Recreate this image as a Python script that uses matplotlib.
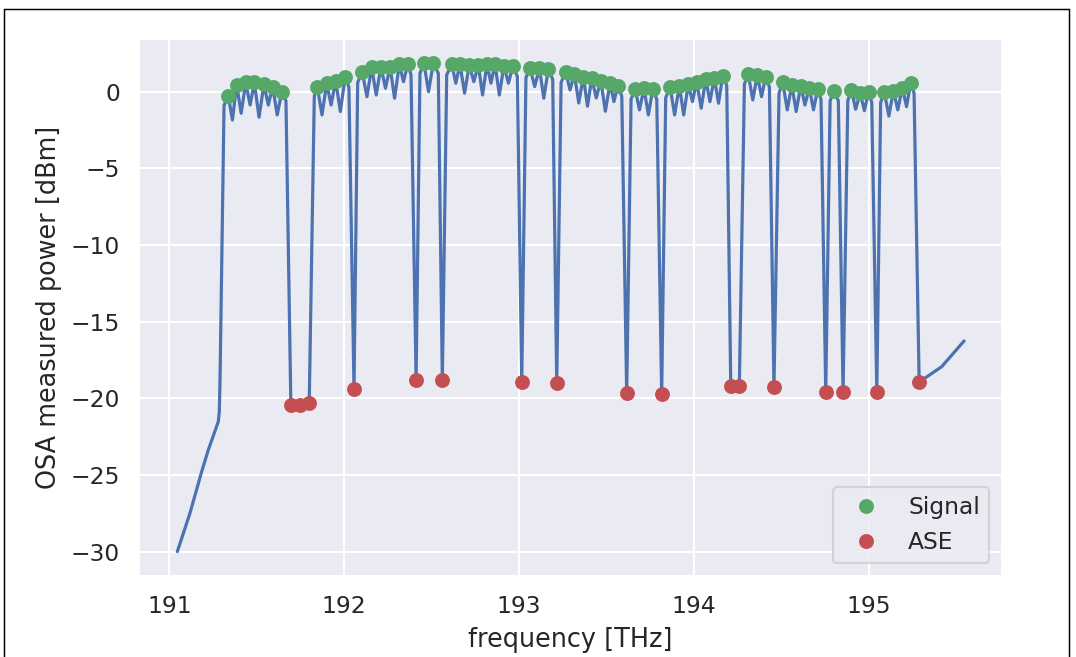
import numpy as np
import matplotlib
matplotlib.use("Agg")
import matplotlib.pyplot as plt
from matplotlib.patches import Rectangle

# measured channel peaks (signal) [THz], [dBm]
signal_freq = [
    191.337, 191.385, 191.437, 191.486, 191.541, 191.591, 191.643,
    191.846, 191.900, 191.951, 192.005,
    192.103, 192.157, 192.210, 192.262, 192.315, 192.363,
    192.456, 192.509,
    192.615, 192.662, 192.715, 192.767, 192.816, 192.862, 192.913, 192.965,
    193.062, 193.116, 193.167,
    193.266, 193.316, 193.367, 193.415, 193.467, 193.520, 193.564,
    193.663, 193.714, 193.764,
    193.863, 193.916, 193.967, 194.015, 194.067, 194.116, 194.164,
    194.310, 194.362, 194.410,
    194.507, 194.559, 194.610, 194.659, 194.707,
    194.800,
    194.900, 194.950, 194.998,
    195.088, 195.140, 195.191, 195.239,
]
signal_power = [
    -0.26, 0.44, 0.61, 0.60, 0.48, 0.33, -0.04,
    0.33, 0.55, 0.72, 0.94,
    1.27, 1.59, 1.63, 1.63, 1.79, 1.79,
    1.85, 1.85,
    1.79, 1.79, 1.74, 1.72, 1.79, 1.81, 1.70, 1.70,
    1.57, 1.53, 1.46,
    1.30, 1.15, 0.98, 0.87, 0.72, 0.55, 0.39,
    0.20, 0.22, 0.18,
    0.31, 0.39, 0.48, 0.65, 0.81, 0.91, 1.04,
    1.14, 1.09, 0.98,
    0.61, 0.44, 0.39, 0.26, 0.16,
    0.07,
    0.11, -0.10, 0.00,
    -0.04, 0.07, 0.26, 0.59,
]

# empty slots (ASE floor)
ase_freq = [191.695, 191.747, 191.800, 192.056, 192.411, 192.561, 193.015,
            193.215, 193.615, 193.815, 194.210, 194.259, 194.457, 194.753,
            194.852, 195.045, 195.287]
ase_power = [-20.44, -20.44, -20.29, -19.37, -18.81, -18.81, -18.92,
             -19.02, -19.67, -19.74, -19.20, -19.20, -19.24, -19.61,
             -19.61, -19.61, -18.94]

# ripple minima between neighbouring channels
dip_freq = [
    191.361, 191.411, 191.462, 191.513, 191.566, 191.617,
    191.873, 191.925, 191.978,
    192.130, 192.183, 192.236, 192.288, 192.339,
    192.482,
    192.638, 192.688, 192.741, 192.791, 192.839, 192.887, 192.939,
    193.089, 193.141,
    193.291, 193.341, 193.391, 193.441, 193.493, 193.542,
    193.688, 193.739,
    193.889, 193.941, 193.991, 194.041, 194.091, 194.140,
    194.336, 194.386,
    194.533, 194.584, 194.634, 194.683,
    194.924, 194.974,
    195.114, 195.165, 195.215,
]
dip_power = [
    -1.85, -1.41, -0.87, -1.67, -0.87, -1.52,
    -1.52, -0.87, -1.30,
    -0.33, -0.22, 0.22, -0.43, 0.65,
    0.00,
    0.55, -0.10, 0.65, -0.22, 0.55, -0.22, 0.55,
    0.33, -0.43,
    0.11, -0.74, -0.95, -0.41, -1.28, -0.65,
    -1.19, -1.52,
    -1.52, -1.52, -0.65, -1.08, -0.65, -0.76,
    -0.54, -0.33,
    -1.19, -1.30, -0.87, -1.19,
    -1.15, -1.24,
    -1.59, -1.19, -0.98,
]

# shoulders where the band edges start to fall
edge_freq = [191.290, 191.313, 191.667, 191.829, 192.027, 192.077, 192.382,
             192.433, 192.538, 192.586, 192.990, 193.039, 193.192, 193.240,
             193.587, 193.640, 193.787, 193.838, 194.187, 194.288, 194.431,
             194.486, 194.726, 194.778, 194.825, 194.879, 195.016, 195.067,
             195.258]
edge_power = [-18.8, -0.9, -0.6, -0.3, 0.3, 0.6, 1.1,
              1.2, 1.2, 1.1, 1.0, 0.9, 0.8, 0.6,
              -0.3, -0.5, -0.5, -0.4, 0.4, 0.5, 0.3,
              -0.1, -0.5, -0.6, -0.6, -0.6, -0.7, -0.7,
              -0.1]

# spectrum outside the band
tail_freq = [191.046, 191.118, 191.185, 191.223, 191.280, 191.286,
             195.416, 195.544]
tail_power = [-30.0, -27.50, -24.79, -23.37, -21.53, -20.87,
              -17.94, -16.26]

# seaborn darkgrid look
plt.rcParams.update({
    "font.family": ["DejaVu Sans"],
    "axes.facecolor": "#EAEAF2",
    "axes.edgecolor": "white",
    "axes.grid": True,
    "axes.axisbelow": True,
    "grid.color": "white",
    "grid.linewidth": 1,
    "text.color": ".15",
    "axes.labelcolor": ".15",
    "xtick.color": ".15",
    "ytick.color": ".15",
    "xtick.labelsize": 11,
    "ytick.labelsize": 11,
    "axes.labelsize": 12,
    "legend.fontsize": 11,
    "xtick.major.size": 6,
    "ytick.major.size": 6,
    "lines.solid_capstyle": "round",
})

DPI = 153
fig = plt.figure(figsize=(1076 / DPI, 657 / DPI), dpi=DPI)
ax = fig.add_axes([140 / 1076, 1 - 575 / 657, 861 / 1076, 535 / 657])

line_f = np.concatenate([tail_freq, edge_freq, signal_freq, dip_freq, ase_freq])
line_p = np.concatenate([tail_power, edge_power, signal_power, dip_power, ase_power])
order = np.argsort(line_f)
ax.plot(line_f[order], line_p[order], color="#4C72B0", lw=1.5)
ax.plot(signal_freq, signal_power, "o", color="#55A868", ms=6, label="Signal")
ax.plot(ase_freq, ase_power, "o", color="#C44E52", ms=6, label="ASE")

ax.tick_params(bottom=False, left=False, length=6)
for s in ax.spines.values():
    s.set_visible(False)
ax.set_xlim(190.8325, 195.755)
ax.set_ylim(-31.53, 3.37)
ax.set_xlabel("frequency [THz]")
ax.set_ylabel("OSA measured power [dBm]")
ax.legend(loc="lower right")

fig.add_artist(Rectangle((3.5 / 1076, -0.1), 1065 / 1076, 1.1 - 8.5 / 657,
                         transform=fig.transFigure, fill=False,
                         ec="black", lw=0.7, clip_on=False))

fig.savefig("out.png", dpi=DPI)
